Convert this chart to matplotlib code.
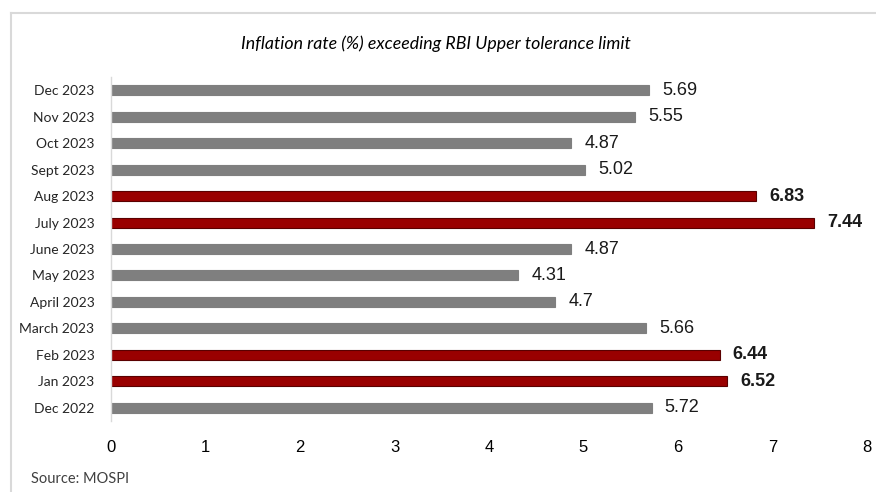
import matplotlib.pyplot as plt
import numpy as np
from matplotlib.lines import Line2D

months = ["Dec 2022", "Jan 2023", "Feb 2023", "March 2023", "April 2023", "May 2023",
          "June 2023", "July 2023", "Aug 2023", "Sept 2023", "Oct 2023", "Nov 2023", "Dec 2023"]
inflation = [5.72, 6.52, 6.44, 5.66, 4.7, 4.31, 4.87, 7.44, 6.83, 5.02, 4.87, 5.55, 5.69]
upper_limit = 6

gray = "#7F7F7F"
red = "#990000"

fig = plt.figure(figsize=(8.76, 4.92), dpi=100)
ax = fig.add_axes([0.1267, 0.1443, 0.8630, 0.6992])

y = np.arange(len(months))
colors = [red if v > upper_limit else gray for v in inflation]
edges = ["#5A0000" if v > upper_limit else gray for v in inflation]
ax.barh(y, inflation, height=0.38, color=colors, edgecolor=edges, linewidth=0.8)

for i, v in enumerate(inflation):
    bold = v > upper_limit
    ax.text(v + 0.14, i, f"{v:g}", va="center", ha="left", fontsize=13,
            family="Liberation Sans", fontweight="bold" if bold else "normal", color="#1A1A1A")

ax.set_xlim(0, 8)
ax.set_ylim(-0.5, len(months) - 0.5)
ax.set_xticks(range(0, 9))
ax.set_yticks(y)
ax.set_yticklabels(months, family="Lato", fontsize=10, color="#262626")
for lbl in ax.get_xticklabels():
    lbl.set_family("Liberation Sans")
    lbl.set_fontsize(12)
ax.tick_params(axis="y", length=0, pad=12)
ax.tick_params(axis="x", length=0, pad=14)
for s in ["top", "right", "bottom"]:
    ax.spines[s].set_visible(False)
ax.spines["left"].set_color("#D9D9D9")
ax.spines["left"].set_linewidth(1)

fig.text(0.4977, 0.912, "Inflation rate (%) exceeding RBI Upper tolerance limit",
         ha="center", va="center", style="italic", family="Lato", fontsize=12.8)
fig.text(0.035, 0.026, "Source: MOSPI", ha="left", va="center", family="Lato",
         fontsize=10.5, color="#404040")

# frame lines (top and left) of the chart box
fig.add_artist(Line2D([0.0125, 1.0], [0.9736, 0.9736], color="#D9D9D9", linewidth=1.5,
                      transform=fig.transFigure))
fig.add_artist(Line2D([0.0125, 0.0125], [0.0, 0.9736], color="#D9D9D9", linewidth=1.5,
                      transform=fig.transFigure))

fig.savefig("out.png", dpi=100)
